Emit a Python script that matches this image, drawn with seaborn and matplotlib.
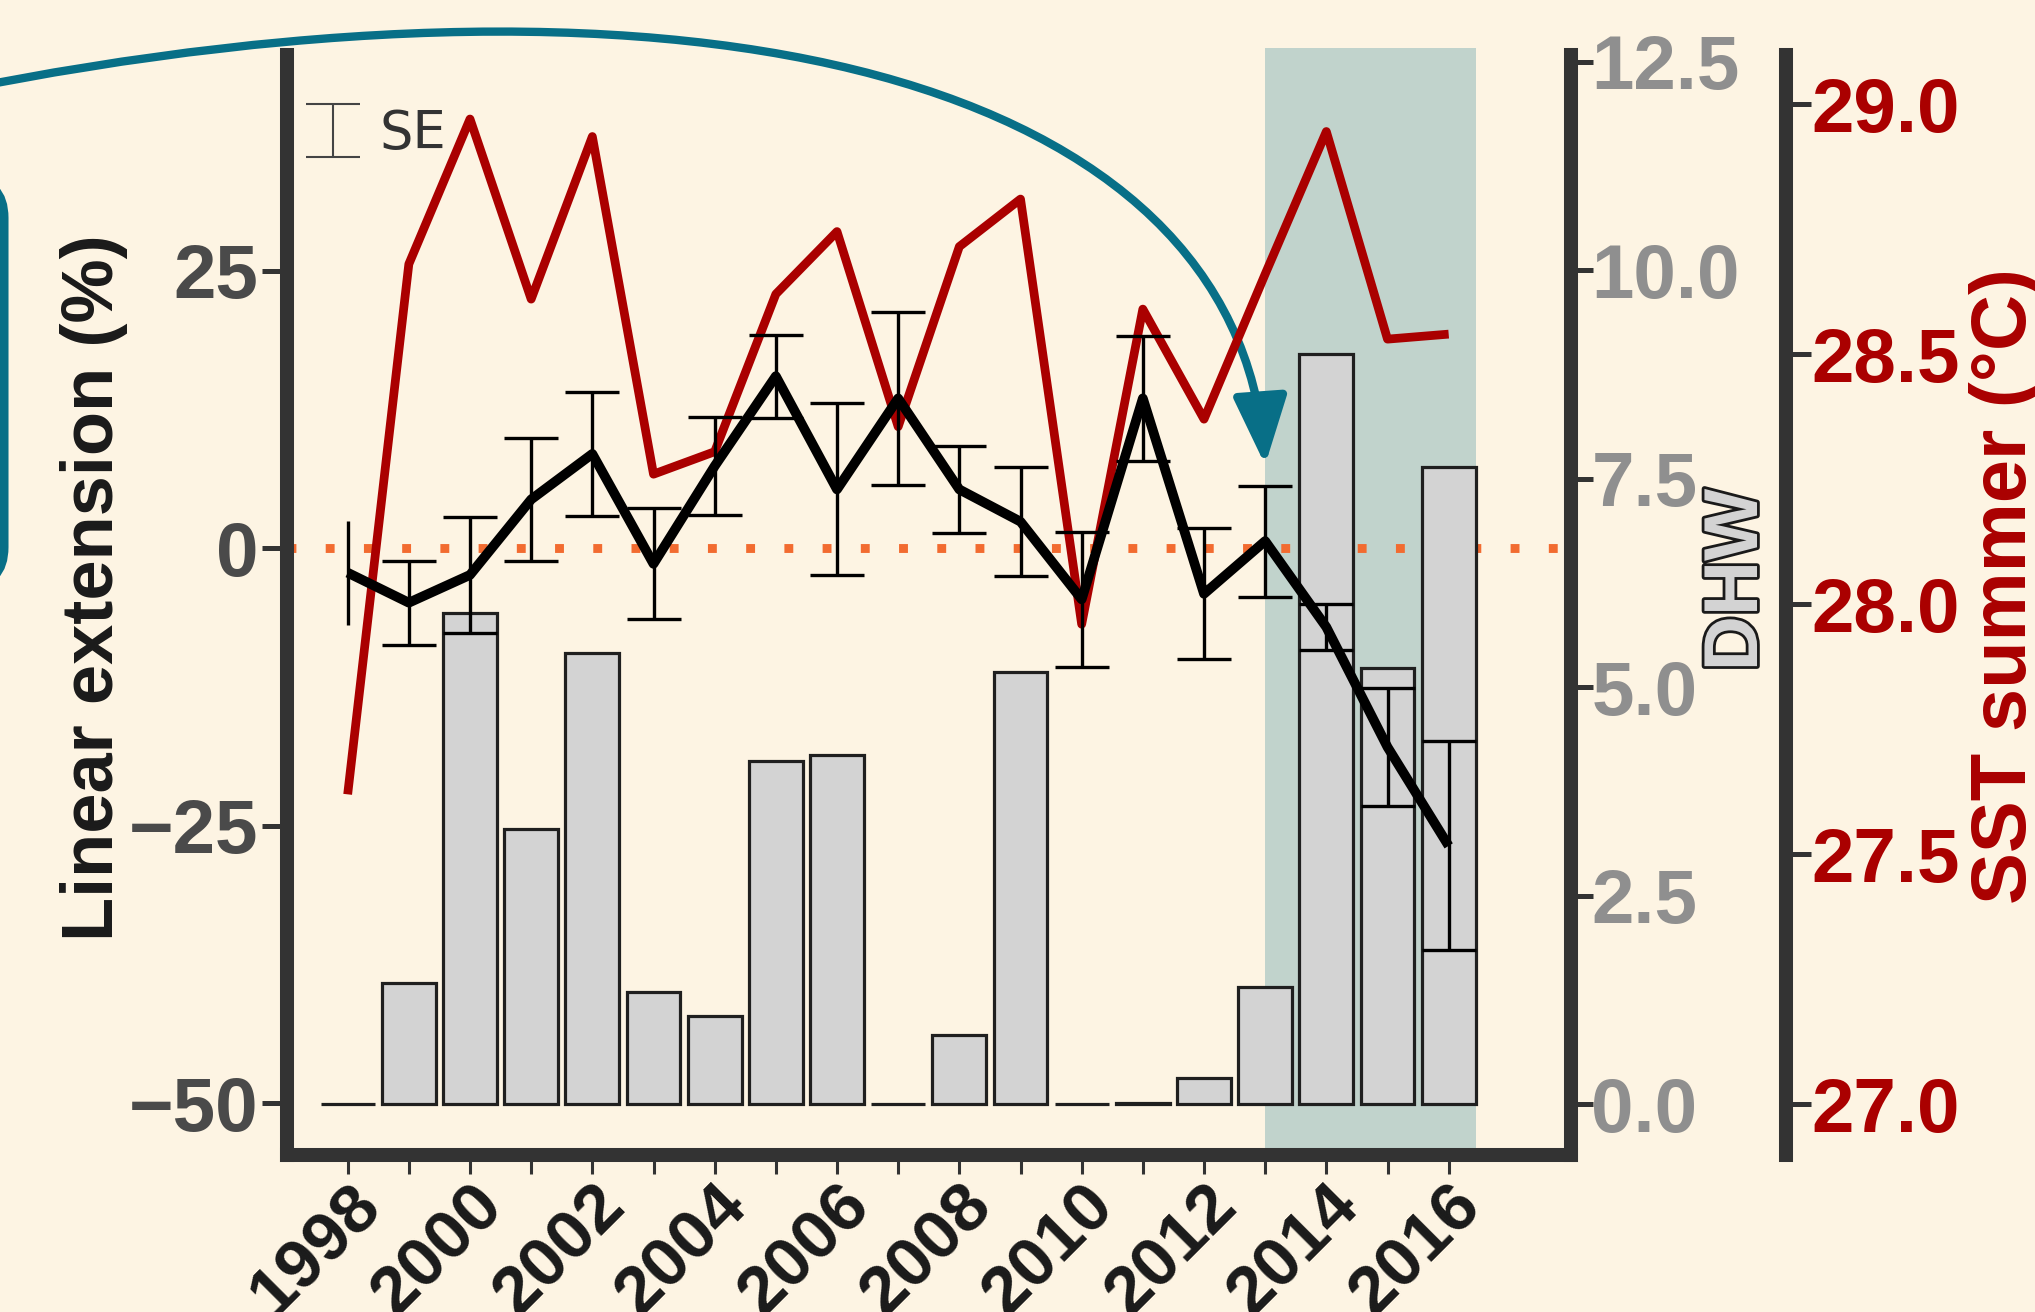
import numpy as np
import pandas as pd
import matplotlib
matplotlib.use("Agg")
import matplotlib.pyplot as plt
import matplotlib.patheffects as pe
import seaborn as sns
from matplotlib.patches import FancyArrowPatch, FancyBboxPatch, ArrowStyle
from matplotlib.path import Path
from matplotlib.transforms import IdentityTransform

# ---------------- data ----------------
years = list(range(1998, 2017))
dhw = [0.0, 1.45, 5.89, 3.30, 5.41, 1.34, 1.06, 4.12, 4.19, 0.0,
       0.83, 5.18, 0.0, 0.02, 0.32, 1.40, 9.00, 5.23, 7.64]
sst_summer = [27.62, 28.68, 28.97, 28.61, 28.935, 28.26, 28.305, 28.62, 28.745, 28.355,
              28.715, 28.81, 27.96, 28.59, 28.37, 28.66, 28.945, 28.53, 28.54]
linear_ext = [-2.2, -4.9, -2.4, 4.4, 8.5, -1.4, 7.4, 15.5, 5.3, 13.5,
              5.3, 2.4, -4.6, 13.5, -4.1, 0.65, -7.1, -17.9, -26.8]
linear_ext_se = [4.7, 3.8, 5.2, 5.5, 5.6, 5.0, 4.4, 3.75, 7.75, 7.8,
                 3.9, 4.9, 6.1, 5.6, 5.9, 5.0, 2.1, 5.35, 9.4]
heatwave_start = 2013
arrow_target = (2013, 7.5)

df = pd.DataFrame({"year": years, "dhw": dhw, "sst": sst_summer,
                   "ext": linear_ext, "se": linear_ext_se})

# ---------------- style ----------------
BG = "#fdf4e3"
RED = "#aa0000"
TEAL = "#086f87"
SPAN = "#c1d3cc"
ORANGE = "#f26b30"
SPINE = "#333333"
BAR_W = 0.88

sns.set_theme(style="ticks")
plt.rcParams["font.family"] = ["Liberation Sans", "DejaVu Sans"]
plt.rcParams["font.weight"] = "bold"
plt.rcParams["axes.labelweight"] = "bold"

W, H, DPI = 2035, 1312, 100
fig = plt.figure(figsize=(W / DPI, H / DPI), dpi=DPI, facecolor=BG)
left_px, right_px, top_px, bottom_px = 286.5, 1571, 54.5, 1155
rect = [left_px / W, (H - bottom_px) / H, (right_px - left_px) / W, (bottom_px - top_px) / H]

ax = fig.add_axes(rect)            # linear extension scale (left), background layers
ax.set_facecolor(BG)
ax_dhw = ax.twinx()                # degree heating weeks (bars)
ax_sst = ax.twinx()                # summer SST (red line)
ax_le = fig.add_axes(rect, sharex=ax, sharey=ax)   # linear extension line on top
ax_le.patch.set_visible(False)

ax.set_zorder(0)
ax_dhw.set_zorder(1)
ax_sst.set_zorder(2)
ax_le.set_zorder(3)

# background: heatwave period and zero reference
ax.axvspan(heatwave_start, years[-1] + BAR_W / 2, ymin=0, ymax=1.006, clip_on=False,
           color=SPAN, lw=0, zorder=0)
ax.axhline(0, color=ORANGE, lw=6.4, ls=(0, (1, 3.3)), zorder=1)

# DHW bars
sns.barplot(data=df, x="year", y="dhw", ax=ax_dhw, native_scale=True,
            width=BAR_W, color="#d3d3d3", saturation=1, errorbar=None,
            edgecolor="#1f1f1f", linewidth=2.3)

# SST line
sns.lineplot(data=df, x="year", y="sst", ax=ax_sst, color=RED, lw=6.3,
             errorbar=None, solid_capstyle="butt")

# linear extension with SE
sns.lineplot(data=df, x="year", y="ext", ax=ax_le, color="black", lw=7,
             errorbar=None, solid_capstyle="butt")
eb = ax_le.errorbar(df["year"], df["ext"], yerr=df["se"], fmt="none", ecolor="black",
                    elinewidth=2.4, capsize=19.5, capthick=2.4)
for cap in eb[1]:
    cap.set_markevery(slice(1, None))

se_key = ax_le.errorbar([np.nan], [np.nan], yerr=[1], fmt="none", ecolor="#444444",
                        elinewidth=1.5, capsize=19.5, capthick=1.5, label="SE")
ax_le.legend(handles=[se_key], loc="center left", bbox_to_anchor=(0.0126, 0.9278),
             frameon=False, handlelength=1.15, handletextpad=0.3, borderpad=0,
             borderaxespad=0, labelcolor="#333333",
             prop={"family": "DejaVu Sans", "weight": "normal", "size": 38})
ax_le.axis("off")

# ---------------- axes limits ----------------
ax.set_xlim(1997, 2018)
ax.set_ylim(-54.64, 44.47)
ax_dhw.set_ylim(-0.609, 12.585)
ax_sst.set_ylim(26.899, 29.099)

# ---------------- spines ----------------
SP_LW = 10.1
for a in (ax, ax_dhw, ax_sst):
    for s in a.spines.values():
        s.set_visible(False)
        s.set_color(SPINE)
        s.set_linewidth(SP_LW)
ax.spines["left"].set_visible(True)
ax.spines["bottom"].set_visible(True)
ax.spines["bottom"].set_capstyle("projecting")
ax_dhw.spines["right"].set_visible(True)
ax_dhw.spines["right"].set_capstyle("projecting")
ax_sst.spines["right"].set_visible(True)
ax_sst.spines["right"].set_capstyle("projecting")
ax_sst.spines["right"].set_position(("axes", 1.1674))

# ---------------- ticks ----------------
ax.set_xticks(years)
ax.set_xticklabels([str(y) if y % 2 == 0 else "" for y in years], rotation=45,
                   ha="right", va="top", rotation_mode="anchor", fontweight="bold")
ax.tick_params(axis="x", length=14, width=2.2, color=SPINE, labelsize=50,
               labelcolor="#1a1a1a", pad=-1)

ax.set_yticks([-50, -25, 0, 25])
ax.tick_params(axis="y", length=18, width=3.6, color=SPINE, labelsize=55,
               labelcolor="#4a4a4a", pad=2)

ax_dhw.set_yticks([0, 2.5, 5, 7.5, 10, 12.5])
ax_dhw.set_yticklabels(["0.0", "2.5", "5.0", "7.5", "10.0", "12.5"], fontweight="bold")
ax_dhw.tick_params(axis="y", length=15.6, width=3.6, color=SPINE, labelsize=55,
                   labelcolor="#8f8f8f", pad=-1)

ax_sst.set_yticks([27.0, 27.5, 28.0, 28.5, 29.0])
ax_sst.set_yticklabels(["27.0", "27.5", "28.0", "28.5", "29.0"], fontweight="bold")
ax_sst.tick_params(axis="y", length=18.3, width=3.6, color=SPINE, labelsize=55,
                   labelcolor=RED, pad=0)

# ---------------- labels ----------------
ax.set_xlabel("")
ax_dhw.set_xlabel("")
ax.set_ylabel("Linear extension (%)", fontsize=52, color="#1a1a1a", fontweight="bold")
ax.yaxis.set_label_coords(-0.1234, 0.516)

ax_dhw.set_ylabel("DHW", fontsize=55, color="#d3d3d3", fontweight="bold",
                  path_effects=[pe.Stroke(linewidth=4, foreground="#1a1a1a"), pe.Normal()])
ax_dhw.yaxis.set_label_coords(1.102, 0.5225)

ax_sst.set_ylabel("SST summer (°C)", fontsize=56, color=RED, fontweight="bold")
ax_sst.yaxis.set_label_coords(1.310, 0.517)

# ---------------- annotation box and arrow ----------------
box = FancyBboxPatch((-200, H - 585), 204, 405,
                     boxstyle="round,pad=0,rounding_size=38",
                     transform=IdentityTransform(), fill=False, ec=TEAL, lw=6.5)
fig.add_artist(box)

tip = ax.transData.transform(arrow_target)
p0 = (-50, H - 92)
c1 = (700, H + 60)
c2 = (tip[0] - 28, tip[1] + 385)
arrow_path = Path([p0, c1, c2, tuple(tip)],
                  [Path.MOVETO, Path.CURVE4, Path.CURVE4, Path.CURVE4])
arrow = FancyArrowPatch(path=arrow_path, transform=IdentityTransform(),
                        arrowstyle=ArrowStyle("-|>", head_length=42, head_width=16.5),
                        mutation_scale=1, color=TEAL, lw=6)
fig.add_artist(arrow)

fig.savefig("out.png", dpi=DPI, facecolor=BG)
